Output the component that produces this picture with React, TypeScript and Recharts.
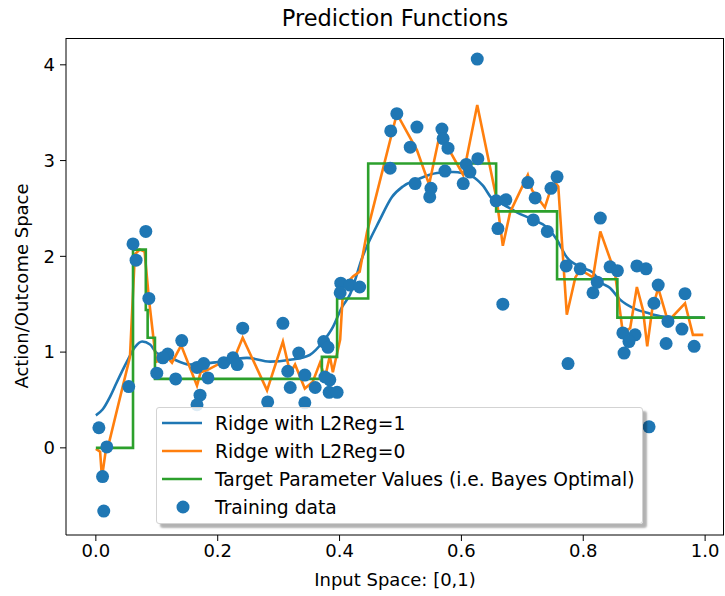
import React from 'react';
import { ComposedChart, Line, Scatter, XAxis, YAxis } from 'recharts';

const xTicks = [0, 0.2, 0.4, 0.6, 0.8, 1.0];
const yTicks = [0, 1, 2, 3, 4];

// [x, y] pairs
const trainingData: [number, number][] = [
  [0.005, 0.21], [0.011, -0.3], [0.013, -0.66], [0.018, 0.01], [0.054, 0.64],
  [0.061, 2.13], [0.066, 1.96], [0.082, 2.26], [0.087, 1.56], [0.141, 1.12],
  [0.118, 0.98], [0.11, 0.94], [0.1, 0.78], [0.131, 0.72], [0.166, 0.84],
  [0.177, 0.88], [0.184, 0.73], [0.171, 0.55], [0.166, 0.45], [0.241, 1.25],
  [0.21, 0.89], [0.225, 0.94], [0.232, 0.87], [0.307, 1.3], [0.333, 0.99],
  [0.315, 0.8], [0.319, 0.63], [0.282, 0.48], [0.343, 0.76], [0.36, 0.63],
  [0.343, 0.47], [0.374, 1.11], [0.381, 1.05], [0.384, 0.71], [0.383, 0.58],
  [0.396, 0.58], [0.376, 0.74], [0.402, 1.72], [0.401, 1.62], [0.417, 1.7],
  [0.433, 1.68], [0.494, 3.49], [0.484, 3.31], [0.527, 3.35], [0.516, 3.14],
  [0.568, 3.33], [0.57, 3.23], [0.578, 3.13], [0.626, 4.06], [0.627, 3.02],
  [0.608, 2.96], [0.614, 2.88], [0.603, 2.76], [0.573, 2.89], [0.55, 2.71],
  [0.548, 2.62], [0.524, 2.76], [0.483, 2.92], [0.657, 2.58], [0.673, 2.59],
  [0.66, 2.29], [0.709, 2.77], [0.721, 2.61], [0.747, 2.71], [0.757, 2.83],
  [0.718, 2.38], [0.741, 2.26], [0.668, 1.5], [0.772, 1.9], [0.795, 1.87],
  [0.816, 1.62], [0.823, 1.73], [0.775, 0.88], [0.828, 2.4], [0.844, 1.89],
  [0.856, 1.85], [0.888, 1.9], [0.903, 1.87], [0.923, 1.7], [0.916, 1.51],
  [0.967, 1.61], [0.939, 1.32], [0.962, 1.24], [0.865, 1.2], [0.885, 1.18],
  [0.875, 1.11], [0.867, 0.99], [0.936, 1.09], [0.982, 1.06], [0.908, 0.22],
];

const ridgeL2Reg1: [number, number][] = [
  [0, 0.34], [0.011, 0.4], [0.023, 0.53], [0.034, 0.68], [0.051, 0.9],
  [0.064, 1.05], [0.076, 1.11], [0.089, 1.08], [0.1, 0.99], [0.122, 0.94],
  [0.154, 0.87], [0.192, 0.89], [0.248, 0.94], [0.286, 0.9], [0.319, 0.92],
  [0.351, 0.97], [0.373, 1.11], [0.389, 1.26], [0.404, 1.47], [0.417, 1.6],
  [0.438, 2.0], [0.466, 2.38], [0.486, 2.62], [0.504, 2.73], [0.527, 2.8],
  [0.56, 2.87], [0.586, 2.88], [0.619, 2.83], [0.635, 2.74], [0.652, 2.59],
  [0.663, 2.56], [0.691, 2.46], [0.718, 2.38], [0.741, 2.3], [0.757, 2.17],
  [0.773, 1.99], [0.795, 1.89], [0.816, 1.83], [0.828, 1.73], [0.844, 1.67],
  [0.86, 1.55], [0.882, 1.46], [0.905, 1.41], [0.931, 1.37], [0.964, 1.36],
  [0.997, 1.36],
];

const ridgeL2Reg0: [number, number][] = [
  [0, -0.01], [0.007, -0.04], [0.01, -0.31], [0.016, -0.04], [0.02, 0.01],
  [0.056, 0.95], [0.064, 2.02], [0.072, 2.07], [0.08, 2.05], [0.087, 1.56],
  [0.099, 0.9], [0.118, 0.94], [0.125, 0.89], [0.14, 1.07], [0.166, 0.65],
  [0.172, 0.79], [0.182, 0.81], [0.209, 0.9], [0.228, 0.95], [0.241, 1.15],
  [0.281, 0.6], [0.307, 1.11], [0.319, 0.78], [0.327, 0.87], [0.343, 0.62],
  [0.356, 0.69], [0.368, 0.89], [0.376, 0.73], [0.384, 0.96], [0.389, 0.79],
  [0.401, 1.13], [0.406, 1.68], [0.422, 1.79], [0.433, 1.84], [0.445, 2.25],
  [0.494, 3.49], [0.527, 3.11], [0.547, 2.75], [0.565, 3.29], [0.573, 3.19],
  [0.603, 2.85], [0.626, 3.58], [0.658, 2.59], [0.668, 2.11], [0.68, 2.46],
  [0.709, 2.85], [0.716, 2.69], [0.737, 2.51], [0.745, 2.67], [0.754, 2.77],
  [0.759, 2.73], [0.773, 1.39], [0.787, 1.78], [0.795, 1.86], [0.816, 1.78],
  [0.828, 2.26], [0.852, 1.83], [0.865, 1.2], [0.877, 1.25], [0.888, 1.68],
  [0.898, 1.44], [0.905, 1.06], [0.913, 1.44], [0.923, 1.67], [0.939, 1.32],
  [0.967, 1.51], [0.98, 1.18], [0.997, 1.18],
];

// step starts, last point closes the final step
const targetSteps: [number, number][] = [
  [0, 0], [0.061, 2.07], [0.082, 1.44], [0.085, 1.15], [0.097, 0.72],
  [0.371, 0.95], [0.396, 1.56], [0.447, 2.97], [0.657, 2.47], [0.757, 1.76],
  [0.856, 1.36], [1.0, 1.36],
];

const xDomain = [-0.049, 1.031];
const yDomain = [-0.91, 4.28];

const BLUE = '#1f77b4';
const ORANGE = '#ff7f0e';
const GREEN = '#2ca02c';

const toPts = (arr: [number, number][]) => arr.map(([x, y]) => ({ x, y }));

const FS = 18;
const tickStyle = { fontFamily: 'DejaVu Sans', fontSize: FS, fill: '#000' };

const legendItems = [
  { label: 'Ridge with L2Reg=1', color: BLUE, kind: 'line' },
  { label: 'Ridge with L2Reg=0', color: ORANGE, kind: 'line' },
  { label: 'Target Parameter Values (i.e. Bayes Optimal)', color: GREEN, kind: 'line' },
  { label: 'Training data', color: BLUE, kind: 'dot' },
];

export default function App() {
  return (
    <div style={{ position: 'absolute', left: 0, top: 0, width: 725, height: 596, background: '#fff', fontFamily: 'DejaVu Sans', color: '#000' }}>
      <div style={{ position: 'absolute', left: 66, width: 658, top: 5, lineHeight: '26px', textAlign: 'center', fontSize: 22.5 }}>
        Prediction Functions
      </div>
      <ComposedChart width={725} height={596} margin={{ top: 38, right: 1, bottom: 0, left: 0 }}>
        <XAxis
          type="number"
          dataKey="x"
          domain={xDomain}
          ticks={xTicks}
          allowDataOverflow
          tickFormatter={(v: number) => v.toFixed(1)}
          height={61}
          tickSize={6}
          tickMargin={3}
          stroke="#000"
          tick={tickStyle}
        />
        <YAxis
          type="number"
          dataKey="y"
          domain={yDomain}
          ticks={yTicks}
          allowDataOverflow
          width={66}
          tickSize={6}
          tickMargin={5}
          stroke="#000"
          tick={tickStyle}
        />
        <Scatter
          data={toPts(trainingData)}
          dataKey="y"
          fill={BLUE}
          isAnimationActive={false}
          shape={(p: any) => <circle cx={p.cx} cy={p.cy} r={6.5} fill={BLUE} />}
        />
        <Line data={toPts(ridgeL2Reg1)} dataKey="y" type="monotone" stroke={BLUE} strokeWidth={2.6} dot={false} isAnimationActive={false} />
        <Line data={toPts(ridgeL2Reg0)} dataKey="y" type="linear" stroke={ORANGE} strokeWidth={2.6} dot={false} isAnimationActive={false} />
        <Line data={toPts(targetSteps)} dataKey="y" type="stepAfter" stroke={GREEN} strokeWidth={2.6} dot={false} isAnimationActive={false} />
      </ComposedChart>
      {/* top and right spines */}
      <div style={{ position: 'absolute', left: 66, top: 38, width: 658, height: 497, boxSizing: 'border-box', borderTop: '1px solid #000', borderRight: '1px solid #000', pointerEvents: 'none' }} />
      <div style={{ position: 'absolute', left: 66, width: 658, top: 569, lineHeight: '22px', textAlign: 'center', fontSize: FS }}>
        Input Space: [0,1)
      </div>
      <div style={{ position: 'absolute', left: 22 - 150, top: 286 - 11, width: 300, lineHeight: '22px', textAlign: 'center', fontSize: FS, transform: 'rotate(-90deg)' }}>
        Action/Outcome Space
      </div>
      <div style={{
        position: 'absolute', left: 156, top: 407, width: 487, height: 117, boxSizing: 'border-box',
        border: '1px solid #d3d3d3', borderRadius: 3, background: 'rgba(255,255,255,0.85)',
        boxShadow: '4px 4px 2px rgba(0,0,0,0.3)', paddingTop: 1,
      }}>
        {legendItems.map((it) => (
          <div key={it.label} style={{ height: 28, display: 'flex', alignItems: 'center', fontSize: 18.7 }}>
            <svg width={58} height={28} style={{ flex: 'none' }}>
              {it.kind === 'line'
                ? <line x1={5} x2={45} y1={14} y2={14} stroke={it.color} strokeWidth={2.6} />
                : <circle cx={26} cy={14} r={6.5} fill={it.color} />}
            </svg>
            <span style={{ whiteSpace: 'nowrap' }}>{it.label}</span>
          </div>
        ))}
      </div>
    </div>
  );
}
